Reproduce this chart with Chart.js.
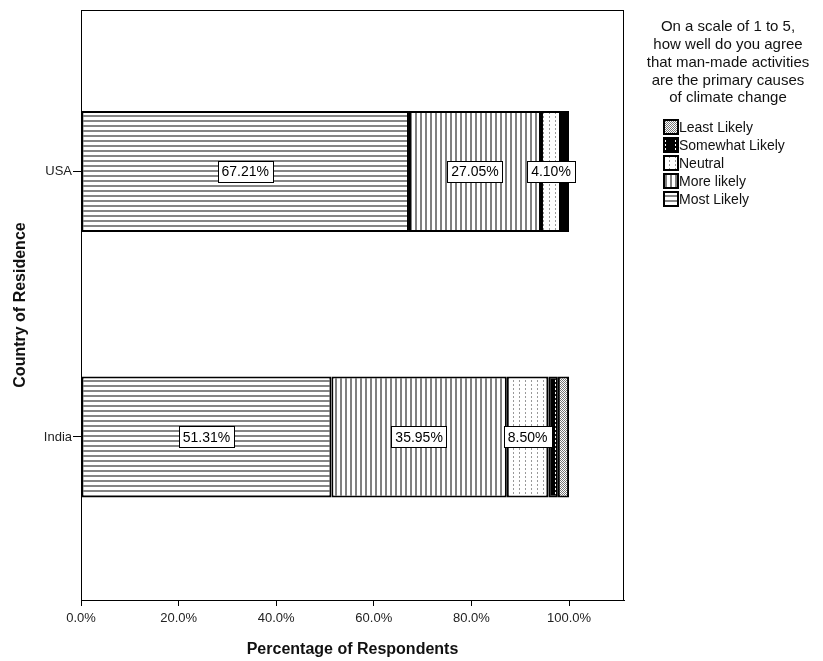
<!DOCTYPE html>
<html>
<head>
<meta charset="utf-8">
<script src="https://cdn.jsdelivr.net/npm/chart.js@4/dist/chart.umd.min.js"></script>
<style>
  html, body { margin: 0; padding: 0; background: #fff; }
  #wrap { width: 823px; height: 661px; }
</style>
</head>
<body>
<div id="wrap"><canvas id="chart" width="823" height="661"></canvas></div>
<script>
// data
const countries = ['USA', 'India'];
const seriesNames = ['Most Likely', 'More likely', 'Neutral', 'Somewhat Likely', 'Least Likely'];
const mostLikely = [67.21, 51.31];
const moreLikely = [27.05, 35.95];
const neutral = [4.10, 8.50];
const somewhatLikely = [0.82, 1.96];
const leastLikely = [0.82, 2.29];
const labelledSeries = ['Most Likely', 'More likely', 'Neutral'];
const xTickValues = [0, 20, 40, 60, 80, 100];
const legendTitle = ['On a scale of 1 to 5,', 'how well do you agree', 'that man-made activities', 'are the primary causes', 'of climate change'];

const FONT = '"Liberation Sans", Arial, sans-serif';

// little canvases used as fill patterns (SPSS style hatching)
function makePattern(w, h, draw) {
    const c = document.createElement('canvas');
    c.width = w;
    c.height = h;
    const g = c.getContext('2d');
    draw(g, w, h);
    return g.createPattern(c, 'repeat');
}

const patterns = {
    'Most Likely': makePattern(5, 5, (g, w) => {
        g.fillStyle = '#fff'; g.fillRect(0, 0, w, 5);
        g.fillStyle = '#858585'; g.fillRect(0, 0, w, 2);
    }),
    'More likely': makePattern(5, 5, (g, w, h) => {
        g.fillStyle = '#fff'; g.fillRect(0, 0, w, h);
        g.fillStyle = '#808080'; g.fillRect(0, 0, 2, h);
    }),
    'Neutral': makePattern(6, 4, (g, w, h) => {
        g.fillStyle = '#fff'; g.fillRect(0, 0, w, h);
        g.fillStyle = '#999'; g.fillRect(3, 0, 1, 2);
    }),
    'Somewhat Likely': makePattern(10, 4, (g, w, h) => {
        g.fillStyle = '#000'; g.fillRect(0, 0, w, h);
        g.fillStyle = '#fff'; g.fillRect(5, 0, 1, 2);
    }),
    'Least Likely': makePattern(4, 4, (g, w, h) => {
        g.fillStyle = '#fff'; g.fillRect(0, 0, w, h);
        g.fillStyle = '#777';
        g.fillRect(0, 0, 1, 1); g.fillRect(2, 0, 1, 1);
        g.fillRect(1, 1, 1, 1); g.fillRect(3, 1, 1, 1);
        g.fillRect(0, 2, 1, 1); g.fillRect(2, 2, 1, 1);
        g.fillRect(1, 3, 1, 1); g.fillRect(3, 3, 1, 1);
    })
};

const seriesValues = [mostLikely, moreLikely, neutral, somewhatLikely, leastLikely];

const datasets = seriesNames.map((name, i) => ({
    label: name,
    data: seriesValues[i].map((v, j) => ({ x: v, y: j })),
    backgroundColor: patterns[name],
    borderColor: '#000',
    borderWidth: 2,
    borderSkipped: false,
    categoryPercentage: 1,
    barPercentage: 0.456
}));

// full box around the plot
const frame = {
    id: 'frame',
    afterDraw(chart) {
        const { ctx, chartArea: a } = chart;
        ctx.save();
        ctx.strokeStyle = '#000';
        ctx.lineWidth = 1;
        ctx.strokeRect(a.left + 0.5, a.top + 0.5, a.right - a.left - 1, a.bottom - a.top);
        ctx.restore();
    }
};

// boxed percentage labels inside the larger segments
const valueLabels = {
    id: 'valueLabels',
    afterDatasetsDraw(chart) {
        const ctx = chart.ctx;
        ctx.save();
        ctx.font = '14px ' + FONT;
        ctx.textAlign = 'center';
        ctx.textBaseline = 'middle';
        chart.data.datasets.forEach((ds, i) => {
            if (!labelledSeries.includes(ds.label)) return;
            chart.getDatasetMeta(i).data.forEach((el, j) => {
                const p = el.getCenterPoint();
                const txt = ds.data[j].x.toFixed(2) + '%';
                const w = ctx.measureText(txt).width + 8;
                const h = 21;
                ctx.fillStyle = '#fff';
                ctx.fillRect(Math.round(p.x - w / 2) + 0.5, Math.round(p.y - h / 2) + 0.5, Math.round(w), h);
                ctx.strokeStyle = '#000';
                ctx.lineWidth = 1;
                ctx.strokeRect(Math.round(p.x - w / 2) + 0.5, Math.round(p.y - h / 2) + 0.5, Math.round(w), h);
                ctx.fillStyle = '#000';
                ctx.fillText(txt, p.x, p.y + 1);
            });
        });
        ctx.restore();
    }
};

// legend on the right with its multi-line title
const sideLegend = {
    id: 'sideLegend',
    afterDraw(chart) {
        const ctx = chart.ctx;
        const cx = 728;
        ctx.save();
        ctx.fillStyle = '#111';
        ctx.font = '15px ' + FONT;
        ctx.textAlign = 'center';
        ctx.textBaseline = 'middle';
        legendTitle.forEach((line, i) => ctx.fillText(line, cx, 27 + i * 17.8));

        ctx.font = '14px ' + FONT;
        ctx.textAlign = 'left';
        const items = chart.data.datasets.slice().reverse();
        items.forEach((ds, i) => {
            const y = 127 + i * 18;
            ctx.fillStyle = ds.backgroundColor;
            ctx.fillRect(664, y - 7, 14, 14);
            ctx.strokeStyle = '#000';
            ctx.lineWidth = 2;
            ctx.strokeRect(664, y - 7, 14, 14);
            ctx.fillStyle = '#111';
            ctx.fillText(ds.label, 679, y + 1);
        });
        ctx.restore();
    }
};

new Chart(document.getElementById('chart'), {
    type: 'bar',
    data: { datasets: datasets },
    options: {
        indexAxis: 'y',
        responsive: false,
        animation: false,
        layout: { padding: { left: 0, top: 10, right: 199, bottom: 0 } },
        plugins: {
            legend: { display: false },
            tooltip: { enabled: false }
        },
        scales: {
            x: {
                type: 'linear',
                stacked: true,
                min: 0,
                max: 111.27,
                afterBuildTicks: s => { s.ticks = xTickValues.map(v => ({ value: v })); },
                afterFit: s => { s.height = 61; },
                ticks: {
                    color: '#222',
                    font: { size: 13, family: FONT },
                    padding: 5,
                    maxRotation: 0,
                    callback: v => v.toFixed(1) + '%'
                },
                grid: { drawOnChartArea: false, drawTicks: true, tickLength: 6, color: '#000', tickColor: '#000' },
                border: { display: true, color: '#000' },
                title: {
                    display: true,
                    text: 'Percentage of Respondents',
                    color: '#111',
                    font: { size: 16, weight: 'bold', family: FONT },
                    padding: { top: 0, bottom: 1.5 }
                }
            },
            y: {
                type: 'linear',
                stacked: true,
                reverse: true,
                offset: false,
                min: -0.608,
                max: 1.614,
                afterBuildTicks: s => { s.ticks = countries.map((c, i) => ({ value: i })); },
                afterFit: s => { s.width = 81; },
                ticks: {
                    color: '#222',
                    font: { size: 13, family: FONT },
                    padding: 1,
                    callback: v => countries[v]
                },
                grid: { offset: false, drawOnChartArea: false, drawTicks: true, tickLength: 8, color: '#000', tickColor: '#000' },
                border: { display: true, color: '#000' },
                title: {
                    display: true,
                    text: 'Country of Residence',
                    color: '#111',
                    font: { size: 16, weight: 'bold', family: FONT },
                    padding: { top: 10.5, bottom: 0 }
                }
            }
        }
    },
    plugins: [frame, valueLabels, sideLegend]
});
</script>
</body>
</html>
